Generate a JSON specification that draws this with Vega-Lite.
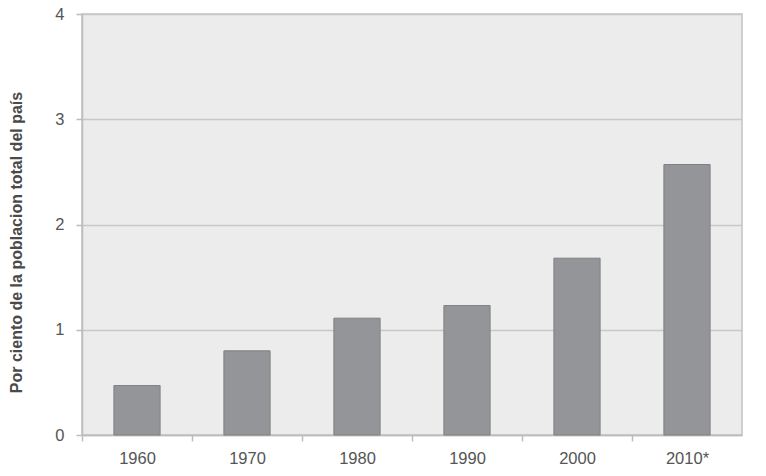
{
  "$schema": "https://vega.github.io/schema/vega-lite/v6.json",
  "width": 660,
  "height": 421,
  "autosize": {"type": "none"},
  "padding": {"left": 82, "top": 14, "right": 24, "bottom": 41},
  "background": "white",
  "config": {
    "view": {"fill": "#ececec", "stroke": "#c4c4c4", "strokeWidth": 1.5},
    "font": "Liberation Sans"
  },
  "data": {
    "values": [
      {"year": "1960", "pct": 0.47},
      {"year": "1970", "pct": 0.8},
      {"year": "1980", "pct": 1.11},
      {"year": "1990", "pct": 1.23},
      {"year": "2000", "pct": 1.68},
      {"year": "2010*", "pct": 2.57}
    ]
  },
  "mark": {"type": "bar", "width": {"band": 0.42}, "fill": "#939598", "stroke": "#808080", "strokeWidth": 1},
  "encoding": {
    "x": {
      "field": "year", "type": "nominal", "sort": null,
      "scale": {"paddingInner": 0, "paddingOuter": 0},
      "axis": {
        "title": null, "labelAngle": 0, "bandPosition": 0,
        "domainColor": "#bdbdbd", "domainWidth": 1.5,
        "tickColor": "#bdbdbd", "tickWidth": 1.5, "tickSize": 6, "tickOffset": 0,
        "labelFontSize": 16.5, "labelColor": "#555555", "labelPadding": 9,
        "labelFont": "Liberation Sans"
      }
    },
    "y": {
      "field": "pct", "type": "quantitative",
      "scale": {"domain": [0, 4], "nice": false},
      "axis": {
        "title": "Por ciento de la poblacion total del país",
        "titleFontSize": 16, "titleFontWeight": "bold", "titleColor": "#4a4a4a",
        "titlePadding": 30, "titleFont": "Liberation Sans", "titleY": 228,
        "values": [0, 1, 2, 3, 4], "format": "d",
        "gridColor": "#c8c8c8", "gridWidth": 1.5,
        "domainColor": "#bdbdbd", "domainWidth": 1.5,
        "tickColor": "#bdbdbd", "tickWidth": 1.5, "tickSize": 6,
        "labelFontSize": 16.5, "labelColor": "#555555", "labelPadding": 12,
        "labelFont": "Liberation Sans"
      }
    }
  }
}
